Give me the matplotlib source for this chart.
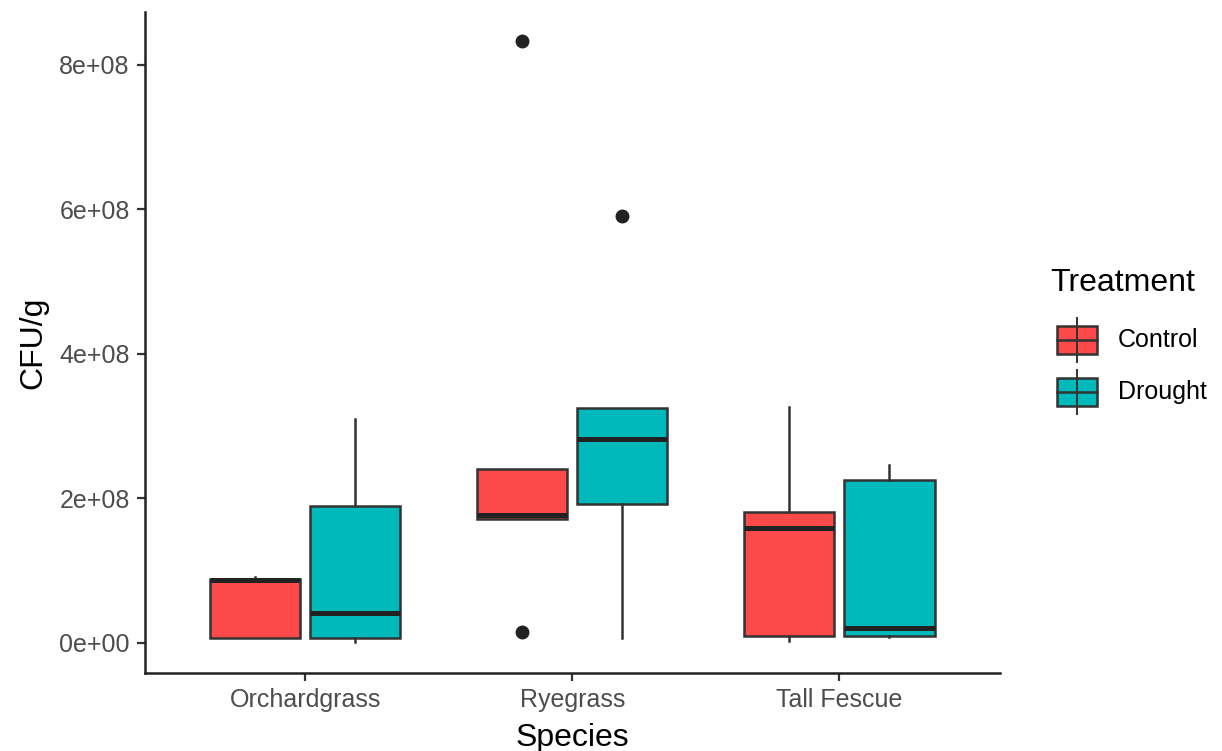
import matplotlib
matplotlib.use("Agg")
import matplotlib.pyplot as plt
from matplotlib.patches import Rectangle
from matplotlib.lines import Line2D

plt.rcParams['font.family'] = ['Liberation Sans', 'DejaVu Sans']

species = ['Orchardgrass', 'Ryegrass', 'Tall Fescue']
treatments = ['Control', 'Drought']
colors = ['#FC4A4A', '#00B9BB']

# box stats (units of CFU/g), per species, per treatment
whislo = [[0.07e8, 0.01e8], [1.72e8, 0.07e8], [0.03e8, 0.08e8]]
q1 = [[0.07e8, 0.07e8], [1.72e8, 1.92e8], [0.10e8, 0.10e8]]
med = [[0.87e8, 0.415e8], [1.77e8, 2.82e8], [1.59e8, 0.21e8]]
q3 = [[0.886e8, 1.90e8], [2.41e8, 3.25e8], [1.81e8, 2.26e8]]
whishi = [[0.91e8, 3.10e8], [2.41e8, 3.25e8], [3.27e8, 2.46e8]]
outliers = [[[], []], [[8.33e8, 0.15e8], [5.91e8]], [[], []]]

fig = plt.figure(figsize=(12.22, 7.51), dpi=100)
ax = fig.add_axes([0.1187, 0.1039, 0.8813 - 0.1187 - 0.0633, 0.984 - 0.1039])

edge = '#333333'
dodge = 0.1875
for i, sp in enumerate(species):
    for j, tr in enumerate(treatments):
        pos = i + 1 + (-dodge if j == 0 else dodge)
        stats = [{
            'whislo': whislo[i][j], 'q1': q1[i][j], 'med': med[i][j],
            'q3': q3[i][j], 'whishi': whishi[i][j], 'fliers': outliers[i][j],
        }]
        ax.bxp(stats, positions=[pos], widths=0.3375, patch_artist=True,
               showcaps=False, manage_ticks=False,
               boxprops=dict(facecolor=colors[j], edgecolor=edge, linewidth=1.8),
               medianprops=dict(color='#222222', linewidth=3.6, solid_capstyle='butt'),
               whiskerprops=dict(color=edge, linewidth=1.8),
               flierprops=dict(marker='o', markerfacecolor='#222222',
                               markeredgecolor='#222222', markersize=9))

ax.set_xlim(0.4, 3.6)
ax.set_ylim(-0.415e8, 8.73e8)
ax.set_xticks([1, 2, 3])
ax.set_xticklabels(species)
ax.set_yticks([0, 2e8, 4e8, 6e8, 8e8])
ax.set_yticklabels(['0e+00', '2e+08', '4e+08', '6e+08', '8e+08'])
ax.tick_params(axis='both', colors='#333333', labelcolor='#4D4D4D',
               labelsize=18, length=6, width=1.6, pad=5)
for s in ['top', 'right']:
    ax.spines[s].set_visible(False)
for s in ['left', 'bottom']:
    ax.spines[s].set_linewidth(1.8)
    ax.spines[s].set_color('#222222')
ax.set_xlabel('Species', fontsize=23, labelpad=8)
ax.set_ylabel('CFU/g', fontsize=23, labelpad=8)

# legend drawn by hand, ggplot style
W, H = 1222, 751
fig.text(1050 / W, 1 - 283 / H, 'Treatment', fontsize=23, va='center', ha='left')
for j, tr in enumerate(treatments):
    cy = 340 + j * 52
    x0, x1 = 1057, 1097
    cx = (x0 + x1) / 2
    fig.add_artist(Line2D([cx / W, cx / W], [1 - (cy - 22) / H, 1 - (cy + 22) / H],
                          transform=fig.transFigure, color=edge, linewidth=1.4))
    fig.add_artist(Rectangle((x0 / W, 1 - (cy + 14) / H), (x1 - x0) / W, 28 / H,
                             transform=fig.transFigure, facecolor=colors[j],
                             edgecolor=edge, linewidth=1.8))
    fig.add_artist(Line2D([x0 / W, x1 / W], [1 - cy / H, 1 - cy / H],
                          transform=fig.transFigure, color=edge, linewidth=1.8))
    fig.text(1118 / W, 1 - cy / H, tr, fontsize=18, va='center', ha='left')

fig.savefig('out.png', dpi=100)
